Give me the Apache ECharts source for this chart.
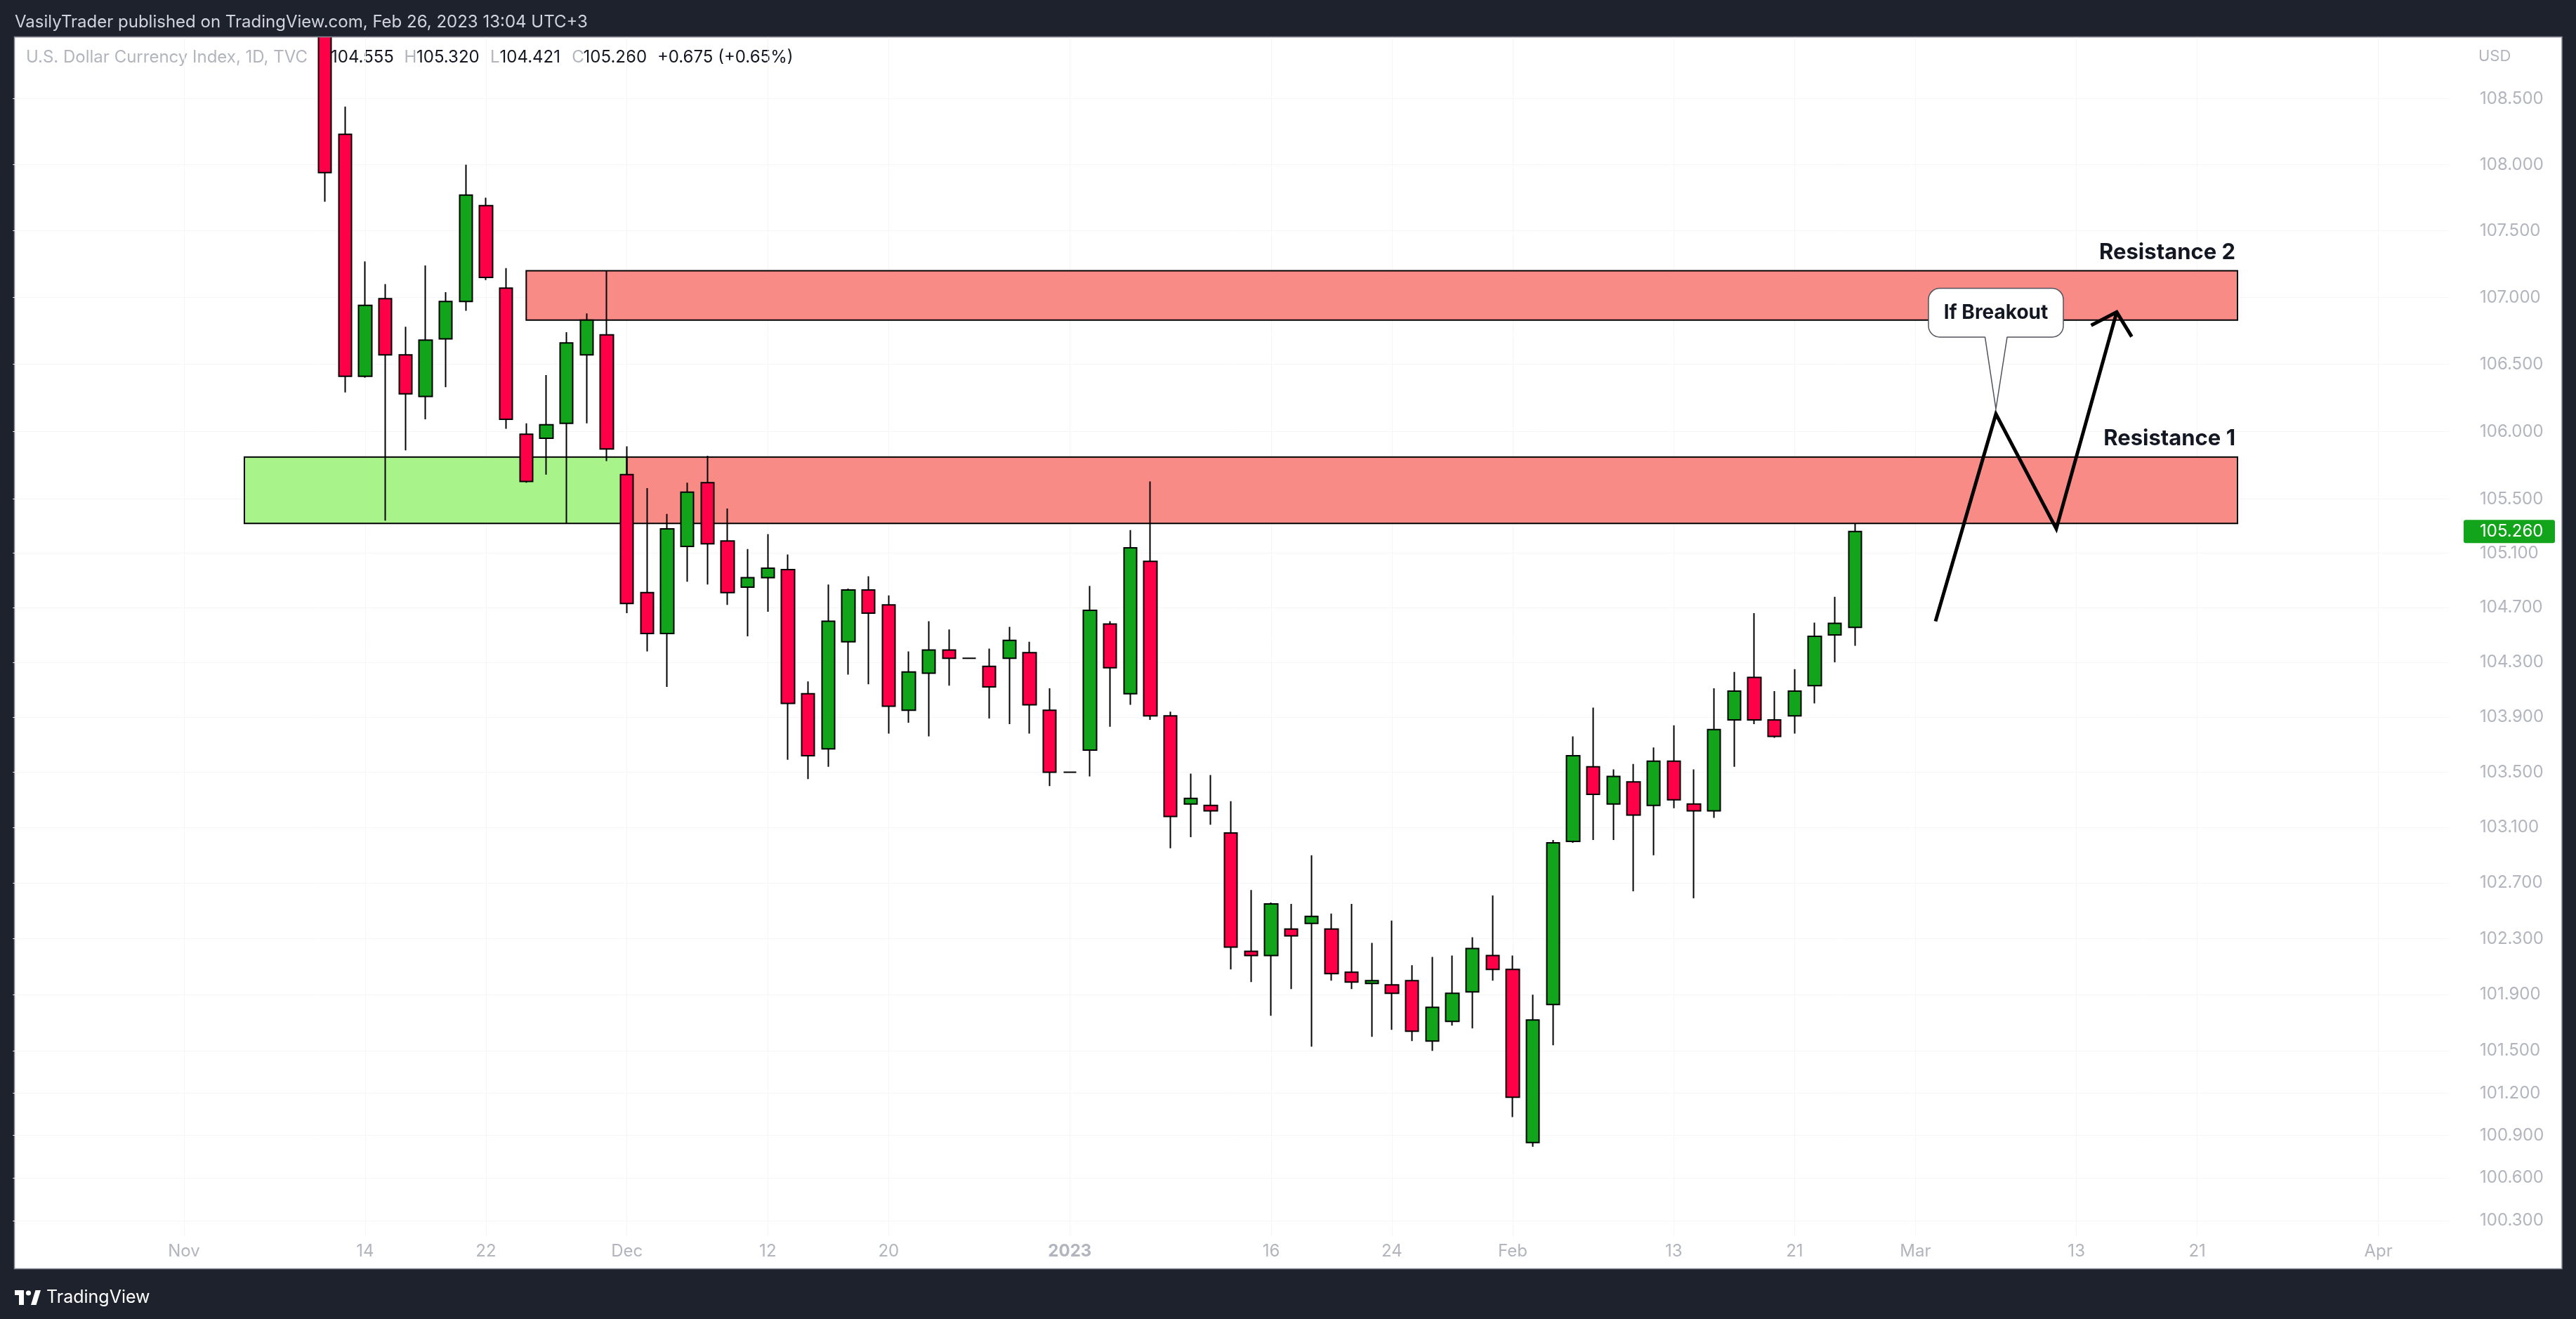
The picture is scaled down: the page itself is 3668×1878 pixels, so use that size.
<!DOCTYPE html>
<html>
<head>
<meta charset="utf-8">
<script src="https://cdn.jsdelivr.net/npm/echarts@6/dist/echarts.min.js"></script>
<style>
html,body{margin:0;padding:0;background:#1e222d;}
#main{width:3668px;height:1878px;}
</style>
</head>
<body>
<div id="main"></div>
<script>
// ---------- DATA ----------
const candleDates = [
 '2022-11-10','2022-11-11','2022-11-14','2022-11-15','2022-11-16','2022-11-17','2022-11-18','2022-11-21','2022-11-22','2022-11-23','2022-11-24','2022-11-25','2022-11-28','2022-11-29','2022-11-30',
 '2022-12-01','2022-12-02','2022-12-05','2022-12-06','2022-12-07','2022-12-08','2022-12-09','2022-12-12','2022-12-13','2022-12-14','2022-12-15','2022-12-16','2022-12-19','2022-12-20','2022-12-21','2022-12-22','2022-12-23','2022-12-26','2022-12-27','2022-12-28','2022-12-29','2022-12-30',
 '2023-01-02','2023-01-03','2023-01-04','2023-01-05','2023-01-06','2023-01-09','2023-01-10','2023-01-11','2023-01-12','2023-01-13','2023-01-16','2023-01-17','2023-01-18','2023-01-19','2023-01-20','2023-01-23','2023-01-24','2023-01-25','2023-01-26','2023-01-27','2023-01-30','2023-01-31',
 '2023-02-01','2023-02-02','2023-02-03','2023-02-06','2023-02-07','2023-02-08','2023-02-09','2023-02-10','2023-02-13','2023-02-14','2023-02-15','2023-02-16','2023-02-17','2023-02-20','2023-02-21','2023-02-22','2023-02-23','2023-02-24'
];
const openValues = [
 110.80,108.23,106.41,106.99,106.57,106.26,106.69,106.97,107.69,107.07,105.98,105.95,106.06,106.57,106.72,
 105.68,104.81,104.51,105.15,105.62,105.19,104.85,104.92,104.98,104.07,103.67,104.45,104.83,104.72,103.95,104.22,104.39,104.33,104.27,104.33,104.37,103.95,
 103.50,103.66,104.58,104.07,105.04,103.91,103.27,103.26,103.06,102.21,102.18,102.37,102.41,102.37,102.06,101.98,101.97,102.00,101.57,101.71,101.92,102.18,
 102.08,100.85,101.83,103.00,103.54,103.27,103.43,103.26,103.58,103.27,103.22,103.88,104.19,103.88,103.91,104.13,104.50,104.555
];
const highValues = [
 110.90,108.44,107.27,107.10,106.78,107.24,107.04,108.00,107.75,107.22,106.06,106.42,106.74,106.88,107.20,
 105.89,105.58,105.39,105.62,105.82,105.43,105.13,105.24,105.09,104.16,104.87,104.84,104.93,104.79,104.38,104.60,104.54,104.33,104.40,104.56,104.45,104.11,
 103.50,104.86,104.60,105.27,105.63,103.94,103.49,103.48,103.29,102.65,102.56,102.55,102.90,102.48,102.55,102.27,102.43,102.11,102.17,102.18,102.31,102.61,
 102.18,101.90,103.01,103.76,103.97,103.52,103.56,103.68,103.84,103.52,104.11,104.23,104.66,104.09,104.25,104.59,104.78,105.320
];
const lowValues = [
 107.72,106.29,106.40,105.34,105.86,106.09,106.33,106.90,107.13,106.02,105.62,105.68,105.32,106.06,105.78,
 104.66,104.38,104.12,104.89,104.87,104.72,104.49,104.67,103.59,103.45,103.54,104.21,104.14,103.78,103.86,103.76,104.13,104.33,103.89,103.85,103.78,103.40,
 103.50,103.47,103.83,103.99,103.88,102.95,103.03,103.12,102.08,101.99,101.75,101.94,101.53,102.00,101.94,101.60,101.65,101.57,101.50,101.68,101.66,102.00,
 101.03,100.82,101.54,102.99,103.01,103.01,102.64,102.90,103.24,102.59,103.17,103.54,103.85,103.75,103.78,104.00,104.30,104.421
];
const closeValues = [
 107.94,106.41,106.94,106.57,106.28,106.68,106.97,107.77,107.15,106.09,105.63,106.05,106.66,106.83,105.87,
 104.73,104.51,105.28,105.55,105.17,104.81,104.92,104.99,104.00,103.62,104.60,104.83,104.66,103.98,104.23,104.39,104.33,104.33,104.12,104.46,103.99,103.50,
 103.50,104.68,104.26,105.14,103.91,103.18,103.31,103.22,102.24,102.18,102.55,102.32,102.46,102.05,101.99,102.00,101.91,101.64,101.81,101.91,102.23,102.08,
 101.17,101.72,102.99,103.62,103.34,103.47,103.19,103.58,103.30,103.22,103.81,104.09,103.88,103.76,104.09,104.49,104.585,105.260
];
const priceTicks = [108.5,108,107.5,107,106.5,106,105.5,105.1,104.7,104.3,103.9,103.5,103.1,102.7,102.3,101.9,101.5,101.2,100.9,100.6,100.3];
const timeTickDates = ['2022-11-01','2022-11-14','2022-11-22','2022-12-01','2022-12-12','2022-12-20','2023-01-02','2023-01-16','2023-01-24','2023-02-01','2023-02-13','2023-02-21','2023-03-01','2023-03-13','2023-03-21','2023-04-03'];
const timeTickLabels = ['Nov','14','22','Dec','12','20','2023','16','24','Feb','13','21','Mar','13','21','Apr'];
const zoneStart = ['2022-11-04','2022-12-01','2022-11-24'];
const zoneEnd = ['2022-12-01','2023-03-23','2023-03-23'];
const zoneTop = [105.81,105.81,107.20];
const zoneBottom = [105.32,105.32,106.83];
const zoneLabel = ['','Resistance 1','Resistance 2'];
const zoneKind = ['support','resistance','resistance'];
const projectionDates = ['2023-03-02','2023-03-07','2023-03-10','2023-03-15'];
const projectionPrices = [104.60,106.13,105.28,106.89];
const calloutText = 'If Breakout';
const lastPrice = 105.260;
const axisFirstDay = '2022-10-20';
const axisLastDay = '2023-04-06';

// ---------- calendar of weekday sessions ----------
const axisDates = [];
(function(){
  const d = new Date(axisFirstDay + 'T00:00:00Z');
  const end = new Date(axisLastDay + 'T00:00:00Z');
  while (d <= end) {
    const w = d.getUTCDay();
    if (w !== 0 && w !== 6) axisDates.push(d.toISOString().slice(0,10));
    d.setUTCDate(d.getUTCDate() + 1);
  }
})();
const idxOf = {};
axisDates.forEach((s,i)=>{ idxOf[s] = i; });
const tickLabelOf = {};
timeTickDates.forEach((s,i)=>{ tickLabelOf[s] = timeTickLabels[i]; });

const candleData = candleDates.map((s,i)=>[idxOf[s], openValues[i], closeValues[i], lowValues[i], highValues[i]]);
const zoneData = zoneStart.map((s,i)=>[idxOf[s], zoneTop[i], idxOf[zoneEnd[i]], zoneBottom[i], i]);
const projectionData = projectionDates.map((s,i)=>[s, projectionPrices[i]]);
const nP = projectionDates.length;
const arrowData = [[idxOf[projectionDates[nP-1]], projectionPrices[nP-1], idxOf[projectionDates[nP-2]], projectionPrices[nP-2]]];
const calloutData = [[idxOf[projectionDates[1]], projectionPrices[1]]];
const lastData = [[idxOf[candleDates[candleDates.length-1]], lastPrice]];

// ---------- layout ----------
const BAR = 28.667;
const GRID_LEFT = 18.3, GRID_TOP = 53, GRID_H = 1707;
const FONT = 'Inter, "Liberation Sans", Arial, sans-serif';
const AXIS_GREY = '#b2b5be';
const UP = '#12a41b', DOWN = '#ff0048';

const chart = echarts.init(document.getElementById('main'), null, {renderer:'canvas'});

const option = {
  backgroundColor: '#1e222d',
  animation: false,
  textStyle: {fontFamily: FONT},
  grid: {left: GRID_LEFT, top: GRID_TOP, width: BAR * axisDates.length, height: GRID_H, outerBoundsMode: 'none', containLabel: false},
  xAxis: [{
    type: 'category',
    data: axisDates,
    boundaryGap: true,
    axisLine: {show:false},
    axisTick: {show:false},
    axisLabel: {
      interval: (i, v) => tickLabelOf[v] !== undefined,
      formatter: (v) => tickLabelOf[v] === '2023' ? '{b|2023}' : (tickLabelOf[v] || ''),
      color: AXIS_GREY, fontSize: 24, fontFamily: FONT, margin: 10,
      rich: {b: {color: AXIS_GREY, fontSize: 24, fontFamily: FONT, fontWeight: 'bold'}}
    },
    splitLine: {show:true, alignWithLabel:true, interval: (i, v) => tickLabelOf[v] !== undefined, lineStyle:{color:'#f6f6f7', width:1}}
  }],
  yAxis: [{
    type: 'log',
    logBase: 10,
    min: 100.191,
    max: 108.968,
    position: 'right',
    axisLine: {show:false},
    axisTick: {show:false, customValues: priceTicks},
    axisLabel: {customValues: priceTicks, formatter: (v)=>Number(v).toFixed(3), color: AXIS_GREY, fontSize: 24, fontFamily: FONT, margin: 44, align: 'left'},
    splitLine: {show:true, lineStyle:{color:'#f6f6f7', width:1}}
  }],
  graphic: [
    {type:'rect', z:-10, shape:{x:20.5, y:52.5, width:3627.5, height:1754}, style:{fill:'#ffffff', stroke:'#868993', lineWidth:1.5}},
    // dark header band drawn over the plot so marks stop at the pane edge
    {type:'rect', z:20, shape:{x:0, y:0, width:3668, height:52}, style:{fill:'#1e222d'}},
    {type:'line', z:20, shape:{x1:20, y1:52.5, x2:3648.5, y2:52.5}, style:{stroke:'#868993', lineWidth:1.5}},
    {type:'text', z:21, x:21, y:32, style:{text:'VasilyTrader published on TradingView.com, Feb 26, 2023 13:04 UTC+3', font:'24px ' + FONT, fill:'#d1d4dc', verticalAlign:'middle'}},
    {type:'text', z:0, x:37, y:82, style:{text:'U.S. Dollar Currency Index, 1D, TVC', font:'24px ' + FONT, fill:AXIS_GREY, verticalAlign:'middle'}},
    {type:'text', z:0, x:452.5, y:82, style:{text:'O', font:'24px ' + FONT, fill:AXIS_GREY, verticalAlign:'middle'}},
    {type:'text', z:0, x:471, y:82, style:{text:'104.555', font:'24px ' + FONT, fill:'#131722', verticalAlign:'middle'}},
    {type:'text', z:0, x:575.4, y:82, style:{text:'H', font:'24px ' + FONT, fill:AXIS_GREY, verticalAlign:'middle'}},
    {type:'text', z:0, x:593, y:82, style:{text:'105.320', font:'24px ' + FONT, fill:'#131722', verticalAlign:'middle'}},
    {type:'text', z:0, x:698, y:82, style:{text:'L', font:'24px ' + FONT, fill:AXIS_GREY, verticalAlign:'middle'}},
    {type:'text', z:0, x:711.6, y:82, style:{text:'104.421', font:'24px ' + FONT, fill:'#131722', verticalAlign:'middle'}},
    {type:'text', z:0, x:814.2, y:82, style:{text:'C', font:'24px ' + FONT, fill:AXIS_GREY, verticalAlign:'middle'}},
    {type:'text', z:0, x:830.6, y:82, style:{text:'105.260', font:'24px ' + FONT, fill:'#131722', verticalAlign:'middle'}},
    {type:'text', z:0, x:935.9, y:82, style:{text:'+0.675 (+0.65%)', font:'24px ' + FONT, fill:'#131722', verticalAlign:'middle'}},
    {type:'text', z:0, x:3529, y:80, style:{text:'USD', font:'22px ' + FONT, fill:AXIS_GREY, verticalAlign:'middle'}},
    // TradingView logo + wordmark
    {type:'rect', z:0, shape:{x:21, y:1837, width:13, height:7}, style:{fill:'#ffffff'}},
    {type:'rect', z:0, shape:{x:27, y:1837, width:7, height:21}, style:{fill:'#ffffff'}},
    {type:'circle', z:0, shape:{cx:40.5, cy:1841, r:3.6}, style:{fill:'#ffffff'}},
    {type:'polygon', z:0, shape:{points:[[44,1858],[50.5,1837],[58,1837],[51.5,1858]]}, style:{fill:'#ffffff'}},
    {type:'text', z:0, x:66, y:1847, style:{text:'TradingView', font:'25px ' + FONT, fill:'#ffffff', verticalAlign:'middle'}}
  ],
  series: [
    {
      name: 'zones',
      type: 'custom',
      z: 1,
      xAxisIndex: 0, yAxisIndex: 0,
      data: zoneData,
      renderItem: function(params, api) {
        const i = api.value(4);
        const p0 = api.coord([api.value(0), api.value(1)]);
        const p1 = api.coord([api.value(2), api.value(3)]);
        const fill = zoneKind[i] === 'support' ? '#a8f48b' : '#f98b87';
        const children = [{
          type:'rect',
          shape:{x:p0[0], y:p0[1], width:p1[0]-p0[0], height:p1[1]-p0[1]},
          style:{fill: fill, stroke:'#000000', lineWidth:2}
        }];
        if (zoneLabel[i]) {
          children.push({type:'text', style:{text: zoneLabel[i], x: p1[0]-3, y: p0[1]-26, align:'right', verticalAlign:'middle', font:'bold 31px ' + FONT, fill:'#131722'}});
        }
        return {type:'group', children: children};
      }
    },
    {
      name: 'DXY',
      type: 'candlestick',
      z: 3,
      clip: true,
      xAxisIndex: 0, yAxisIndex: 0,
      barWidth: 19,
      encode: {x: 0, y: [1,2,3,4]},
      data: candleData,
      itemStyle: {color: UP, color0: DOWN, borderColor:'#000000', borderColor0:'#000000', borderColorDoji:'#000000', borderWidth: 2}
    },
    {
      name: 'projection',
      type: 'line',
      z: 4,
      xAxisIndex: 0, yAxisIndex: 0,
      data: projectionData,
      symbol: 'none',
      lineStyle: {color:'#000000', width:5, join:'miter', cap:'butt'}
    },
    {
      name: 'arrowhead',
      type: 'custom',
      z: 4,
      xAxisIndex: 0, yAxisIndex: 0,
      data: arrowData,
      renderItem: function(params, api) {
        const tip = api.coord([api.value(0), api.value(1)]);
        const from = api.coord([api.value(2), api.value(3)]);
        const ang = Math.atan2(from[1]-tip[1], from[0]-tip[0]);
        const len = 41, spread = 47 * Math.PI / 180;
        const a = [tip[0] + len*Math.cos(ang+spread), tip[1] + len*Math.sin(ang+spread)];
        const b = [tip[0] + len*Math.cos(ang-spread), tip[1] + len*Math.sin(ang-spread)];
        return {type:'polyline', shape:{points:[a, tip, b]}, style:{stroke:'#000000', lineWidth:5, fill:null, lineJoin:'miter', lineCap:'butt'}};
      }
    },
    {
      name: 'callout',
      type: 'custom',
      z: 5,
      xAxisIndex: 0, yAxisIndex: 0,
      data: calloutData,
      renderItem: function(params, api) {
        const p = api.coord([api.value(0), api.value(1)]);
        const tx = p[0], ty = p[1] - 7;
        const L = tx - 96, R = tx + 96, T = ty - 172, B = ty - 102.5;
        return {type:'group', children:[
          {type:'rect', shape:{x:L, y:T, width:R-L, height:B-T, r:16}, style:{fill:'#ffffff', stroke:'#50535e', lineWidth:1.5}},
          {type:'polygon', shape:{points:[[tx-15.5,B-2],[tx+16,B-2],[tx,ty]]}, style:{fill:'#ffffff'}},
          {type:'polyline', shape:{points:[[tx-15.5,B],[tx,ty],[tx+16,B]]}, style:{stroke:'#50535e', lineWidth:1.5, fill:null}},
          {type:'text', style:{text: calloutText, x: tx, y: (T+B)/2, align:'center', verticalAlign:'middle', font:'bold 28px ' + FONT, fill:'#131722'}}
        ]};
      }
    },
    {
      name: 'lastPriceBadge',
      type: 'custom',
      z: 6,
      clip: false,
      xAxisIndex: 0, yAxisIndex: 0,
      data: lastData,
      renderItem: function(params, api) {
        const p = api.coord([api.value(0), api.value(1)]);
        const cs = params.coordSys;
        const x0 = cs.x + cs.width + 21;
        return {type:'group', children:[
          {type:'rect', shape:{x:x0, y:p[1]-16.5, width:130, height:33, r:3}, style:{fill: UP}},
          {type:'text', style:{text: Number(api.value(1)).toFixed(3), x: x0 + 23, y: p[1], align:'left', verticalAlign:'middle', font:'24px ' + FONT, fill:'#ffffff'}}
        ]};
      }
    }
  ]
};
chart.setOption(option);
</script>
</body>
</html>
